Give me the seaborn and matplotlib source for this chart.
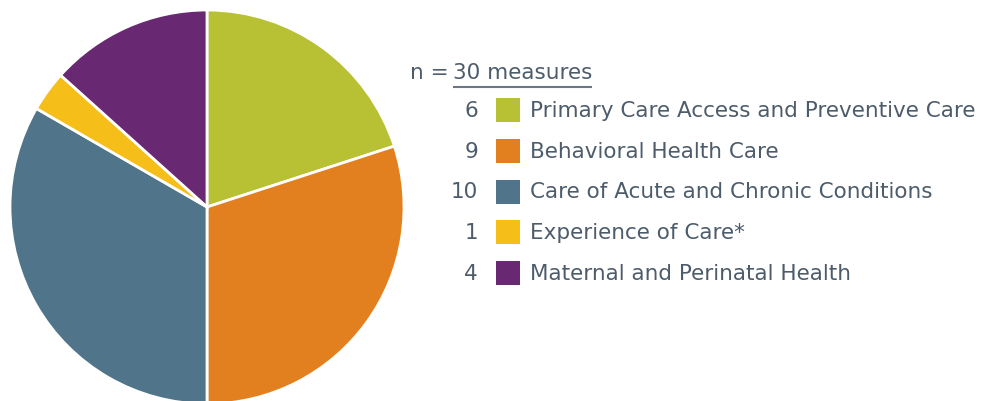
import numpy as np
import seaborn as sns
import matplotlib.pyplot as plt
from matplotlib.patches import Rectangle

categories = ['Primary Care Access and Preventive Care', 'Behavioral Health Care',
              'Care of Acute and Chronic Conditions', 'Experience of Care*',
              'Maternal and Perinatal Health']
counts = [6, 9, 10, 1, 4]
colors = ['#b8c034', '#e2801f', '#507489', '#f5be18', '#692872']
total_label = 'n = '
total_value = f'{sum(counts)} measures'

TEXT = '#4d5c6b'
W, H = 993, 402

sns.set_theme(style='white')
plt.rcParams['font.family'] = ['DejaVu Sans']

fig = plt.figure(figsize=(W / 100, H / 100), dpi=100)

# pie
cx, cy, r = 207, 208, 197
ax = fig.add_axes([(cx - r) / W, (H - cy - r) / H, 2 * r / W, 2 * r / H])
ax.pie(counts, colors=colors, startangle=90, counterclock=False,
       wedgeprops=dict(edgecolor='white', linewidth=2))
ax.set_xlim(-1, 1)
ax.set_ylim(-1, 1)
ax.axis('off')

# legend drawn in pixel coordinates
lx = fig.add_axes([0, 0, 1, 1])
lx.set_xlim(0, W)
lx.set_ylim(H, 0)
lx.axis('off')

fs = 15.5
lx.text(410, 73, total_label, fontsize=fs, color=TEXT, va='center', ha='left')
lx.text(453, 73, total_value, fontsize=fs, color=TEXT, va='center', ha='left')
lx.plot([453, 592], [88, 88], color='#6b7884', lw=1.5, solid_capstyle='butt')

row0, step = 111, 40.75
for i, (cat, n, c) in enumerate(zip(categories, counts, colors)):
    y = row0 + i * step
    lx.text(478, y, str(n), fontsize=fs, color=TEXT, va='center', ha='right')
    lx.add_patch(Rectangle((496, y - 12), 24, 24, color=c, lw=0))
    lx.text(530, y, cat, fontsize=fs, color=TEXT, va='center', ha='left')

fig.savefig('out.png', dpi=100)
